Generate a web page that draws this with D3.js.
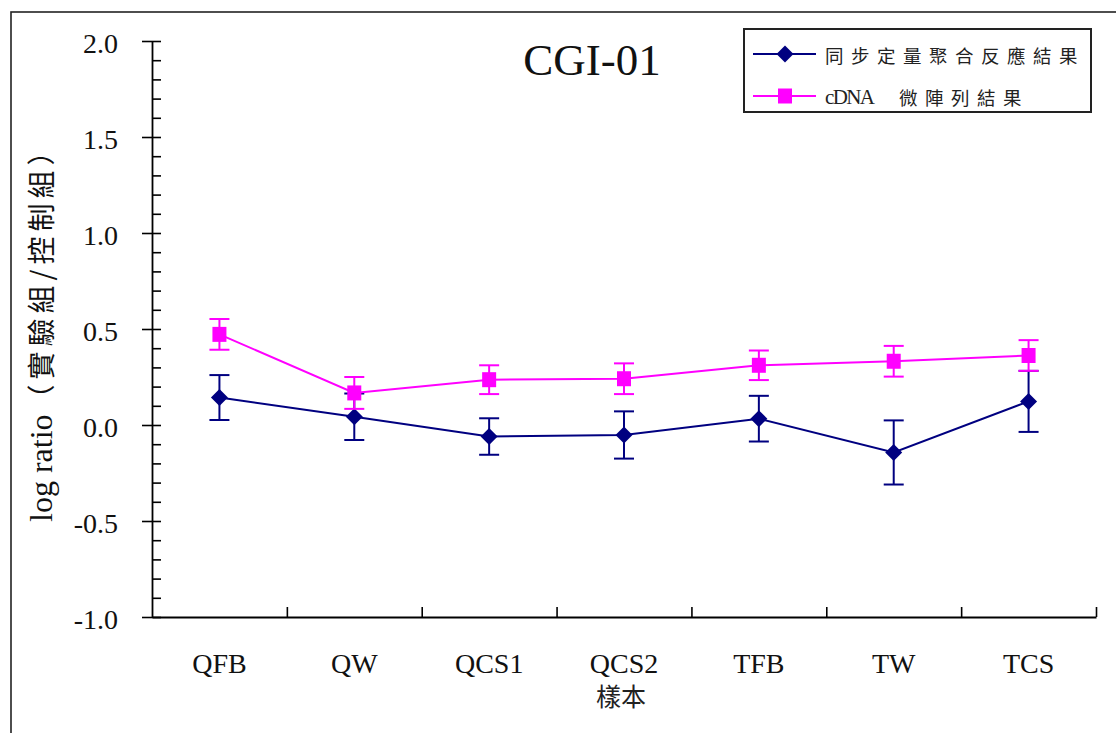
<!DOCTYPE html>
<html>
<head>
<meta charset="utf-8">
<script src="https://cdn.jsdelivr.net/npm/d3@7"></script>
<style>
  html, body { margin: 0; padding: 0; background: #ffffff; }
  svg { display: block; }
</style>
</head>
<body>
<svg id="chart" width="1116" height="733"></svg>
<script>
// Sample groups along the x axis
const categories = ["QFB", "QW", "QCS1", "QCS2", "TFB", "TW", "TCS"];

// Real-time quantitative PCR result (log ratio) and its error
const qpcrValues = [0.143, 0.043, -0.060, -0.052, 0.033, -0.143, 0.123];
const qpcrErrors = [0.117, 0.121, 0.095, 0.123, 0.119, 0.167, 0.159];

// cDNA microarray result (log ratio) and its error
const arrayValues = [0.472, 0.167, 0.236, 0.241, 0.311, 0.332, 0.362];
const arrayErrors = [0.080, 0.083, 0.075, 0.080, 0.077, 0.080, 0.080];

// Axis ticks
const yMajorTicks = [-1.0, -0.5, 0.0, 0.5, 1.0, 1.5, 2.0];
const yMinorTicks = d3.range(-10, 21).map(i => i / 10);

const titleText = "CGI-01";
const seriesNames = ["同步定量聚合反應結果", "cDNA 微陣列結果"];
const xAxisTitle = "樣本";

const NAVY = "#000080";
const MAGENTA = "#ff00ff";
const SERIF = "'Liberation Serif', 'Times New Roman', serif";
const CJK = "'Noto Sans CJK TC', 'Noto Sans CJK SC', sans-serif";

const svg = d3.select("#chart");

// outer frame of the figure
svg.append("rect")
  .attr("x", 11).attr("y", 12)
  .attr("width", 1130).attr("height", 760)
  .attr("fill", "none").attr("stroke", "#222").attr("stroke-width", 1.6);

const plot = { left: 152, right: 1096, top: 41, bottom: 617 };

const y = d3.scaleLinear().domain([-1, 2]).range([plot.bottom, plot.top]);
const x = d3.scaleBand().domain(categories).range([plot.left, plot.right]).padding(0);
const xEdge = d3.scaleLinear().domain([0, categories.length]).range([plot.left, plot.right]);
const cx = d => x(d) + x.bandwidth() / 2;

// ---- y axis: labels with outward major ticks, inward minor ticks ----
const yAxisLeft = svg.append("g")
  .attr("transform", `translate(${plot.left},0)`)
  .call(d3.axisLeft(y).tickValues(yMajorTicks).tickFormat(d3.format(".1f"))
    .tickSizeInner(10).tickSizeOuter(0).tickPadding(24));
yAxisLeft.select(".domain").attr("stroke", "#000").attr("stroke-width", 1.8);
yAxisLeft.selectAll(".tick line").attr("stroke", "#000").attr("stroke-width", 1.6);
yAxisLeft.selectAll(".tick text")
  .attr("font-family", SERIF).attr("font-size", 28).attr("fill", "#111")
  .attr("dy", "0.42em")
  .text(d => d3.format(".1f")(d).replace("−", "-"));

const yAxisRight = svg.append("g")
  .attr("transform", `translate(${plot.left},0)`)
  .call(d3.axisRight(y).tickValues(yMinorTicks).tickFormat("")
    .tickSizeInner(9).tickSizeOuter(0));
yAxisRight.select(".domain").remove();
yAxisRight.selectAll(".tick line").attr("stroke", "#000").attr("stroke-width", 1.6);

// ---- x axis: boundary ticks pointing up, labels at band centres ----
const xTicks = svg.append("g")
  .attr("transform", `translate(0,${plot.bottom})`)
  .call(d3.axisBottom(xEdge).tickValues(d3.range(1, categories.length + 1))
    .tickFormat("").tickSizeInner(-10).tickSizeOuter(0));
xTicks.select(".domain").attr("stroke", "#000").attr("stroke-width", 1.8);
xTicks.selectAll(".tick line").attr("stroke", "#000").attr("stroke-width", 1.6);

const xLabels = svg.append("g")
  .attr("transform", `translate(0,${plot.bottom})`)
  .call(d3.axisBottom(x).tickSize(0).tickPadding(36));
xLabels.select(".domain").remove();
xLabels.selectAll(".tick text")
  .attr("font-family", SERIF).attr("font-size", 28).attr("fill", "#111");

// x axis title
svg.append("text")
  .attr("x", 621).attr("y", 706)
  .attr("text-anchor", "middle")
  .attr("font-family", CJK).attr("font-size", 25).attr("fill", "#222")
  .text(xAxisTitle);

// y axis title (rotated)
const yTitle = svg.append("text")
  .attr("transform", "translate(52,522) rotate(-90)")
  .attr("text-anchor", "start")
  .attr("fill", "#111");
yTitle.append("tspan").attr("font-family", SERIF).attr("font-size", 32).text("log ratio");
yTitle.append("tspan").attr("font-family", CJK).attr("font-size", 28)
  .attr("letter-spacing", 5).attr("dx", 2).text("（實驗組/控制組）");

// chart title
svg.append("text")
  .attr("x", 592).attr("y", 75)
  .attr("text-anchor", "middle")
  .attr("font-family", SERIF).attr("font-size", 45).attr("fill", "#111")
  .text(titleText);

// ---- series ----
const diamond = "M0,-8.5L8.5,0L0,8.5L-8.5,0Z";
const square = "M-7,-7.5H7V7.5H-7Z";

function drawSeries(values, errors, color, markerPath) {
  const g = svg.append("g");
  const data = categories.map((c, i) => ({ c, v: values[i], e: errors[i] }));

  g.append("path")
    .datum(data)
    .attr("fill", "none").attr("stroke", color).attr("stroke-width", 2)
    .attr("d", d3.line().x(d => cx(d.c)).y(d => y(d.v)));

  const eb = g.selectAll(".err").data(data).join("g").attr("class", "err");
  eb.append("line")
    .attr("x1", d => cx(d.c)).attr("x2", d => cx(d.c))
    .attr("y1", d => y(d.v - d.e)).attr("y2", d => y(d.v + d.e))
    .attr("stroke", color).attr("stroke-width", 2);
  [1, -1].forEach(s => {
    eb.append("line")
      .attr("x1", d => cx(d.c) - 10).attr("x2", d => cx(d.c) + 10)
      .attr("y1", d => y(d.v + s * d.e)).attr("y2", d => y(d.v + s * d.e))
      .attr("stroke", color).attr("stroke-width", 2);
  });

  g.selectAll(".mk").data(data).join("path").attr("class", "mk")
    .attr("d", markerPath)
    .attr("transform", d => `translate(${cx(d.c)},${y(d.v)})`)
    .attr("fill", color);
}

drawSeries(qpcrValues, qpcrErrors, NAVY, diamond);
drawSeries(arrayValues, arrayErrors, MAGENTA, square);

// ---- legend ----
const legend = svg.append("g");
legend.append("rect")
  .attr("x", 744).attr("y", 29).attr("width", 347).attr("height", 83)
  .attr("fill", "#fff").attr("stroke", "#222").attr("stroke-width", 2);

const legendItems = [
  { color: NAVY, marker: diamond, yPos: 54 },
  { color: MAGENTA, marker: square, yPos: 96 }
];
legendItems.forEach((it, i) => {
  legend.append("line")
    .attr("x1", 753).attr("x2", 816).attr("y1", it.yPos).attr("y2", it.yPos)
    .attr("stroke", it.color).attr("stroke-width", 2);
  legend.append("path")
    .attr("d", it.marker)
    .attr("transform", `translate(785,${it.yPos})`)
    .attr("fill", it.color);
});

// first entry: all CJK, on a 26px grid
legend.append("text")
  .attr("x", 825).attr("y", 55).attr("dominant-baseline", "central")
  .attr("font-family", CJK).attr("font-size", 18.5).attr("letter-spacing", 7.5)
  .attr("fill", "#222")
  .text(seriesNames[0]);

// second entry: latin prefix then CJK
const [latinPart, cjkPart] = seriesNames[1].split(" ");
legend.append("text")
  .attr("x", 825).attr("y", 97).attr("dominant-baseline", "central")
  .attr("font-family", SERIF).attr("font-size", 21)
  .attr("textLength", 50).attr("lengthAdjust", "spacing")
  .attr("fill", "#222")
  .text(latinPart);
legend.append("text")
  .attr("x", 899).attr("y", 97).attr("dominant-baseline", "central")
  .attr("font-family", CJK).attr("font-size", 18.5).attr("letter-spacing", 7.5)
  .attr("fill", "#222")
  .text(cjkPart);
</script>
</body>
</html>
